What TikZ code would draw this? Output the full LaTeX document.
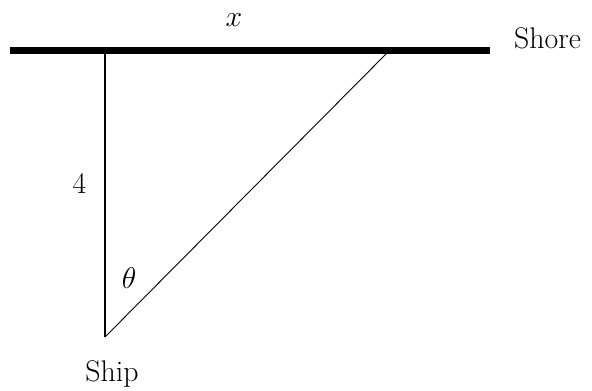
\documentclass[tikz,border=0pt]{standalone}
\usepackage{graphicx}
\newcommand{\lblscale}[1]{\scalebox{1.2}{#1}}
\begin{document}
\begin{tikzpicture}[x=1pt,y=-1pt,
  lbl/.style={inner sep=0pt,anchor=base,font=\fontsize{24.88}{30}\selectfont}]
\useasboundingbox (0,0) rectangle (592,391);
\coordinate (sl) at (10,50.3);
\coordinate (sr) at (490,50.3);
\coordinate (top) at (105,50);
\coordinate (ship) at (105,337);
\coordinate (pt) at (390,50);
\draw[line width=7pt] (sl) -- (sr);
\draw[line width=2.4pt] (top) -- (ship);
\draw[line width=0.9pt] (ship) -- (pt);
\node[lbl] (xl) at (234,26) {\lblscale{$x$}};
\node[lbl,anchor=base west] (shore) at (514,48) {\lblscale{Shore}};
\node[lbl] (four) at (79.5,193) {\lblscale{4}};
\node[lbl] (th) at (129,288) {\lblscale{$\theta$}};
\node[lbl] (shipl) at (112,381) {\lblscale{Ship}};
\end{tikzpicture}
\end{document}
